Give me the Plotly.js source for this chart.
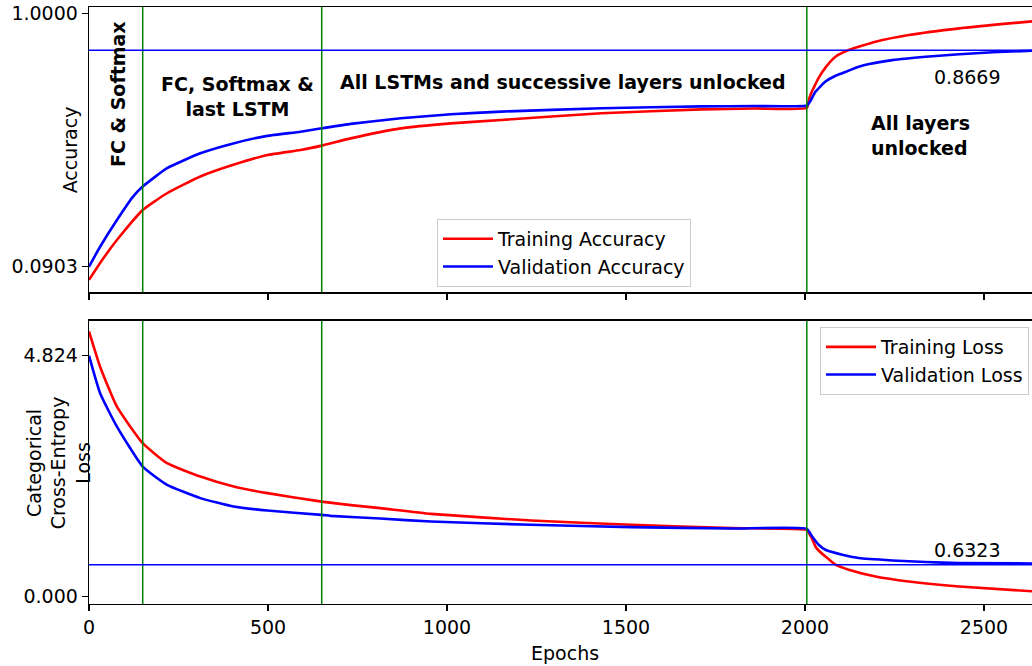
<!DOCTYPE html>
<html>
<head>
<meta charset="utf-8">
<script src="https://cdn.plot.ly/plotly-3.0.1.min.js"></script>
<style>
  html, body { margin: 0; padding: 0; background: #ffffff; }
  #chart { width: 1032px; height: 666px; }
</style>
</head>
<body>
<div id="chart"></div>
<script>
// ---- data ----
const trainAccEpochs = [0, 31, 78, 150, 218, 311, 403, 498, 591, 650, 731, 871, 1011, 1151, 1431, 1711, 1860, 2005, 2012, 2020, 2029, 2038, 2057, 2085, 2122, 2197, 2290, 2431, 2641];
const trainAcc       = [0.043, 0.104, 0.186, 0.294, 0.354, 0.414, 0.456, 0.491, 0.509, 0.525, 0.551, 0.587, 0.605, 0.617, 0.641, 0.655, 0.658, 0.661, 0.695, 0.722, 0.745, 0.768, 0.805, 0.844, 0.868, 0.898, 0.922, 0.946, 0.972];

const valAccEpochs = [0, 31, 78, 123, 150, 218, 311, 403, 498, 591, 650, 731, 871, 1011, 1151, 1431, 1711, 1860, 2005, 2015, 2029, 2057, 2084, 2104, 2150, 2179, 2244, 2337, 2431, 2524, 2641];
const valAcc       = [0.0903, 0.162, 0.258, 0.342, 0.378, 0.444, 0.4975, 0.533, 0.560, 0.575, 0.587, 0.603, 0.623, 0.6375, 0.647, 0.659, 0.666, 0.667, 0.669, 0.685, 0.718, 0.755, 0.775, 0.785, 0.808, 0.818, 0.832, 0.844, 0.853, 0.860, 0.866];

const trainLossEpochs = [0, 31, 78, 150, 218, 311, 404, 498, 650, 731, 813, 955, 1235, 1515, 1796, 2005, 2011, 2020, 2029, 2038, 2057, 2085, 2122, 2197, 2290, 2431, 2641];
const trainLoss       = [5.31, 4.604, 3.803, 3.070, 2.670, 2.402, 2.202, 2.070, 1.90, 1.83, 1.77, 1.655, 1.521, 1.435, 1.369, 1.335, 1.269, 1.15, 1.00, 0.92, 0.80, 0.635, 0.535, 0.400, 0.300, 0.200, 0.100];

const valLossEpochs = [0, 31, 78, 150, 218, 311, 404, 498, 650, 675, 813, 955, 1235, 1515, 1796, 2005, 2020, 2038, 2057, 2104, 2150, 2244, 2337, 2431, 2641];
const valLoss       = [4.824, 4.071, 3.403, 2.602, 2.236, 1.970, 1.801, 1.721, 1.635, 1.615, 1.56, 1.501, 1.435, 1.389, 1.361, 1.355, 1.201, 1.035, 0.935, 0.835, 0.769, 0.721, 0.689, 0.669, 0.660];

const unlockEpochs = [150, 650, 2005];
const bestValAcc = [0.8669];
const bestValLoss = [0.6323];

const accTickVals = [0.0903, 1.0];
const accTickText = ['0.0903', '1.0000'];
const lossTickVals = [0, 4.824];
const lossTickText = ['0.000', '4.824'];
const epochTicks = [0, 500, 1000, 1500, 2000, 2500];

const phaseLabels = ['FC & Softmax', 'FC, Softmax &<br>last LSTM', 'All LSTMs and successive layers unlocked', 'All layers<br>unlocked'];

// ---- styling ----
const FONT = 'DejaVu Sans, Liberation Sans, sans-serif';
const FS = 19;
const RED = '#ff0000', BLUE = '#0000ff', GREEN = '#008000';
const curve = (c) => ({ color: c, width: 2.6, shape: 'spline', smoothing: 0.45 });

const traces = [
  { x: trainAccEpochs, y: trainAcc, xaxis: 'x', yaxis: 'y', mode: 'lines', name: 'Training Accuracy',
    line: curve(RED), legend: 'legend' },
  { x: valAccEpochs, y: valAcc, xaxis: 'x', yaxis: 'y', mode: 'lines', name: 'Validation Accuracy',
    line: curve(BLUE), legend: 'legend' },
  { x: trainLossEpochs, y: trainLoss, xaxis: 'x2', yaxis: 'y2', mode: 'lines', name: 'Training Loss',
    line: curve(RED), legend: 'legend2' },
  { x: valLossEpochs, y: valLoss, xaxis: 'x2', yaxis: 'y2', mode: 'lines', name: 'Validation Loss',
    line: curve(BLUE), legend: 'legend2' }
];

const shapes = [];
unlockEpochs.forEach(e => {
  shapes.push({ type: 'line', xref: 'x', yref: 'y domain', x0: e, x1: e, y0: 0, y1: 1,
    line: { color: GREEN, width: 1.5 }, layer: 'above' });
  shapes.push({ type: 'line', xref: 'x2', yref: 'y2 domain', x0: e, x1: e, y0: 0, y1: 1,
    line: { color: GREEN, width: 1.5 }, layer: 'above' });
});
shapes.push({ type: 'line', xref: 'x domain', yref: 'y', x0: 0, x1: 1, y0: bestValAcc[0], y1: bestValAcc[0],
  line: { color: BLUE, width: 1.5 }, layer: 'above' });
shapes.push({ type: 'line', xref: 'x2 domain', yref: 'y2', x0: 0, x1: 1, y0: bestValLoss[0], y1: bestValLoss[0],
  line: { color: BLUE, width: 1.5 }, layer: 'above' });

const boldFont = { family: FONT, size: FS, color: '#000000' };
const plainFont = { family: FONT, size: FS, color: '#000000' };
const annotations = [
  { text: '<b>' + phaseLabels[0] + '</b>', xref: 'x', yref: 'y', x: 81, y: 0.71, textangle: -90,
    showarrow: false, font: boldFont, xanchor: 'center', yanchor: 'middle' },
  { text: '<b>' + phaseLabels[1] + '</b>', xref: 'x', yref: 'y', x: 415, y: 0.703,
    showarrow: false, font: boldFont, xanchor: 'center', yanchor: 'middle', align: 'center' },
  { text: '<b>' + phaseLabels[2] + '</b>', xref: 'x', yref: 'y', x: 1323, y: 0.7534,
    showarrow: false, font: boldFont, xanchor: 'center', yanchor: 'middle' },
  { text: '<b>' + phaseLabels[3] + '</b>', xref: 'x', yref: 'y', x: 2180, y: 0.563,
    showarrow: false, font: boldFont, xanchor: 'left', yanchor: 'middle', align: 'left' },
  { text: bestValAcc[0].toFixed(4), xref: 'x', yref: 'y', x: 2453, y: 0.771,
    showarrow: false, font: plainFont, xanchor: 'center', yanchor: 'middle' },
  { text: bestValLoss[0].toFixed(4), xref: 'x2', yref: 'y2', x: 2453, y: 0.935,
    showarrow: false, font: plainFont, xanchor: 'center', yanchor: 'middle' },
  // axis titles
  { text: 'Accuracy', xref: 'paper', yref: 'y domain', x: -0.0205, y: 0.5, textangle: -90,
    showarrow: false, font: plainFont, xanchor: 'center', yanchor: 'middle' },
  { text: 'Categorical<br>Cross-Entropy<br>Loss', xref: 'paper', yref: 'y2 domain', x: -0.0329, y: 0.5, textangle: -90,
    showarrow: false, font: plainFont, xanchor: 'center', yanchor: 'middle', align: 'center' },
  { text: 'Epochs', xref: 'paper', yref: 'paper', x: 0.5048, y: -0.082,
    showarrow: false, font: plainFont, xanchor: 'center', yanchor: 'middle' }
];

const axisCommon = {
  showgrid: false, zeroline: false, showline: true, linecolor: '#000', linewidth: 1.3,
  ticks: 'outside', ticklen: 6, tickwidth: 1.3, tickcolor: '#000',
  tickfont: { family: FONT, size: FS, color: '#000' }
};

const legendCommon = {
  xanchor: 'left', yanchor: 'top', xref: 'paper', yref: 'paper',
  bgcolor: 'rgba(255,255,255,0.8)', bordercolor: '#cccccc', borderwidth: 1,
  itemwidth: 50, tracegroupgap: 0,
  font: { family: FONT, size: FS, color: '#000' }
};

const layout = {
  width: 1032, height: 666,
  margin: { l: 89, r: 0, t: 7, b: 62 },
  paper_bgcolor: '#ffffff', plot_bgcolor: '#ffffff',
  font: { family: FONT, size: FS, color: '#000' },
  showlegend: true,
  xaxis: Object.assign({}, axisCommon, { domain: [0, 1], range: [0, 2634], anchor: 'y',
    tickmode: 'array', tickvals: epochTicks, showticklabels: false, mirror: true }),
  yaxis: Object.assign({}, axisCommon, { domain: [0.5221, 1], range: [-0.0016, 1.0226], anchor: 'x',
    tickmode: 'array', tickvals: accTickVals, ticktext: accTickText }),
  xaxis2: Object.assign({}, axisCommon, { domain: [0, 1], range: [0, 2634], anchor: 'y2', matches: 'x',
    tickmode: 'array', tickvals: epochTicks, mirror: true }),
  yaxis2: Object.assign({}, axisCommon, { domain: [0, 0.4745], range: [-0.152, 5.525], anchor: 'x2',
    tickmode: 'array', tickvals: lossTickVals, ticktext: lossTickText }),
  legend: Object.assign({}, legendCommon, { x: 0.369, y: 0.645 }),
  legend2: Object.assign({}, legendCommon, { x: 0.7752, y: 0.464 }),
  shapes: shapes,
  annotations: annotations
};

Plotly.newPlot('chart', traces, layout, { staticPlot: true, displayModeBar: false });
</script>
</body>
</html>
